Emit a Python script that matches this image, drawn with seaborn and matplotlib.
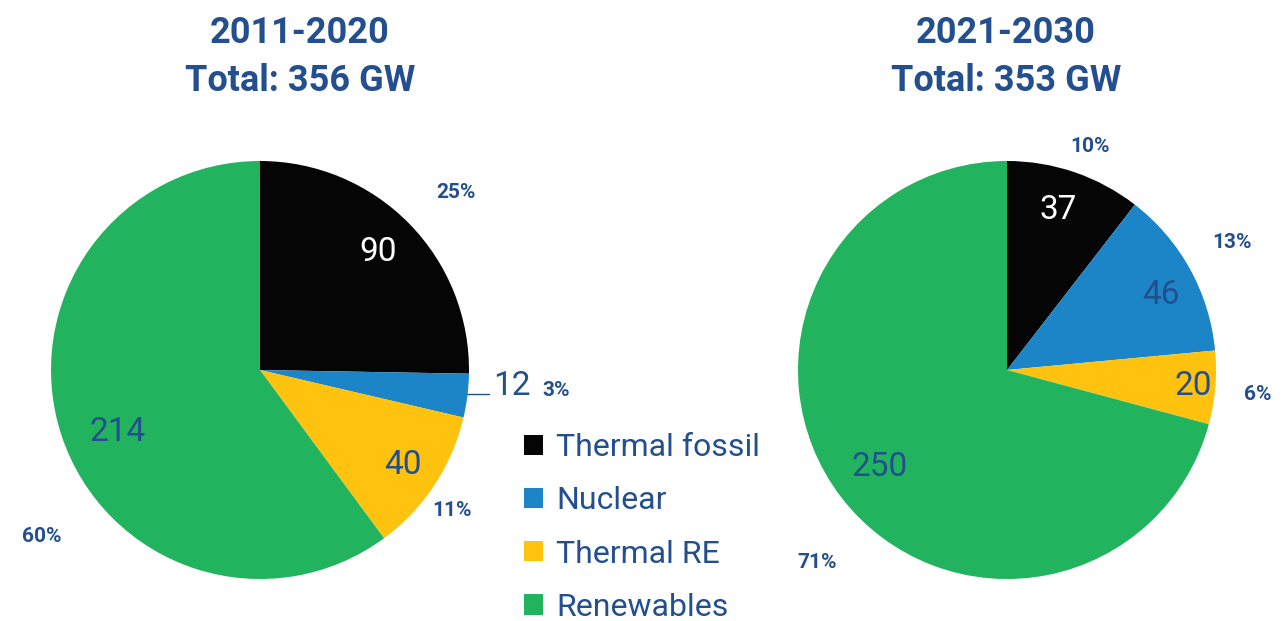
import matplotlib
matplotlib.use("Agg")
import matplotlib.pyplot as plt
from matplotlib.patches import Patch
import seaborn as sns

# data
categories = ["Thermal fossil", "Nuclear", "Thermal RE", "Renewables"]
values_2011 = [90, 12, 40, 214]
values_2021 = [37, 46, 20, 250]
titles = ["2011-2020", "2021-2030"]
totals = [356, 353]
pct_2011 = ["25%", "3%", "11%", "60%"]
pct_2021 = ["10%", "13%", "6%", "71%"]

colors = ["#050505", "#1b85c7", "#ffc20e", "#22b35e"]
navy = "#234f8e"

sns.set_theme(style="white")
plt.rcParams["font.family"] = ["Roboto", "DejaVu Sans"]

W, H = 1282, 621
fig = plt.figure(figsize=(W / 100, H / 100), dpi=100)


def draw_pie(cx, cy, r, vals):
    ax = fig.add_axes([(cx - r) / W, (H - cy - r) / H, 2 * r / W, 2 * r / H])
    ax.pie(vals, colors=colors, startangle=90, counterclock=False,
           radius=1, wedgeprops=dict(linewidth=0))
    ax.set_xlim(-1, 1)
    ax.set_ylim(-1, 1)
    ax.set_aspect("equal")
    ax.axis("off")
    return ax


ax1 = draw_pie(260, 370, 209, values_2011)
ax2 = draw_pie(1007, 370, 209, values_2021)

# overlay for text in pixel coords
ov = fig.add_axes([0, 0, 1, 1])
ov.set_xlim(0, W)
ov.set_ylim(H, 0)
ov.axis("off")
ov.patch.set_alpha(0)

for x, t, tot in zip([300, 1006], titles, totals):
    ov.text(x, 33, t, ha="center", va="center", fontsize=26,
            fontweight="bold", color=navy)
    ov.text(x, 81, f"Total: {tot} GW", ha="center", va="center",
            fontsize=26, fontweight="bold", color=navy)

# value labels (inside / near wedges)
val_pos_1 = [(378, 252), (512, 386), (403, 465), (118, 432)]
val_col_1 = ["white", navy, navy, navy]
pct_pos_1 = [(456, 192), (556, 391), (452, 510), (42, 536)]
val_pos_2 = [(1058, 210), (1161, 295), (1193, 386), (880, 467)]
val_col_2 = ["white", navy, navy, navy]
pct_pos_2 = [(1090, 147), (1232, 242), (1258, 394), (817, 563)]

for vals, vpos, vcol, pcts, ppos in [
    (values_2011, val_pos_1, val_col_1, pct_2011, pct_pos_1),
    (values_2021, val_pos_2, val_col_2, pct_2021, pct_pos_2),
]:
    for v, (x, y), c in zip(vals, vpos, vcol):
        ov.text(x, y, str(v), ha="center", va="center", fontsize=24,
                fontweight="normal", color=c)
    for p, (x, y) in zip(pcts, ppos):
        ov.text(x, y, p, ha="center", va="center", fontsize=15,
                fontweight="bold", color=navy)

# leader line for the small nuclear slice
ov.plot([467, 489], [394, 394], color=navy, lw=1)

handles = [Patch(facecolor=c, edgecolor="none") for c in colors]
leg = fig.legend(handles, categories, loc="upper left",
                 bbox_to_anchor=(508 / W, 1 - 417 / H), frameon=False,
                 fontsize=23, handlelength=0.6, handleheight=0.6,
                 handletextpad=0.4, labelspacing=0.76, borderpad=0)
for t in leg.get_texts():
    t.set_color(navy)

fig.savefig("out.png", dpi=100)
